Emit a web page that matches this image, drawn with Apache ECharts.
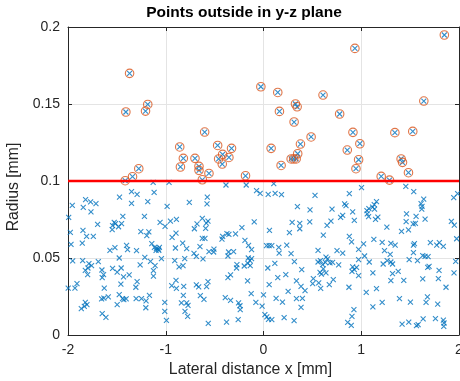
<!DOCTYPE html>
<html><head><meta charset="utf-8">
<script src="https://cdn.jsdelivr.net/npm/echarts@6/dist/echarts.min.js"></script>
<style>html,body{margin:0;padding:0;background:#fff}#c{width:460px;height:381px}</style>
</head><body><div id="c"></div>
<script>
// Points inside the radius threshold (lateral distance x [mm], radius [mm])
const xInside = [
-1.350,-1.293,-1.119,-1.473,-1.956,-1.820,-1.769,-1.714,-1.844,-1.350,-1.184,-0.986,-0.759,-1.765,-1.439,-1.218,-1.993,-1.697,-1.527,-1.544,
-1.514,-1.452,-1.483,-1.548,-1.058,-1.007,-0.952,-0.891,-1.976,-1.847,-1.810,-1.741,-1.854,-1.255,-1.173,-1.194,-0.895,-0.935,-0.827,-0.786,
-1.969,-1.401,-1.391,-1.299,-1.571,-1.520,-1.143,-1.116,-1.095,-1.075,-1.099,-1.071,-1.065,-0.901,-1.476,-1.952,-1.850,-1.690,-1.786,-1.759,
-1.796,-1.823,-1.799,-1.214,-1.156,-1.262,-1.109,-1.044,-0.908,-0.806,-0.864,-0.823,-1.653,-1.636,-1.650,-1.544,-1.456,-1.497,-1.432,-1.374,
-1.126,-1.126,-1.293,-1.459,-1.306,-0.939,-0.895,-0.816,-0.891,-1.998,-1.929,-1.908,-1.629,-1.476,-1.442,-1.405,-1.429,-1.303,-1.248,-1.167,
-1.201,-1.656,-1.633,-1.588,-0.820,-1.823,-1.806,-1.833,-1.864,-1.497,-1.010,-1.010,-0.993,-0.840,-0.786,-0.772,-0.803,-0.776,-1.204,-1.650,
-1.612,-1.129,-0.966,
-0.384,-0.177,0.105,-0.071,-0.034,0.048,0.119,0.184,-0.575,-0.578,0.347,-0.680,-0.707,-0.626,-0.568,-0.585,-0.592,-0.095,-0.221,0.293,
0.371,0.371,0.061,0.265,-0.374,-0.418,-0.425,-0.286,-0.354,-0.626,-0.599,-0.190,-0.153,-0.122,0.031,0.058,0.085,0.156,0.238,-0.650,
-0.711,-0.687,-0.619,-0.558,-0.507,-0.510,-0.357,-0.306,-0.364,0.160,0.282,-0.156,-0.122,-0.139,-0.160,-0.272,-0.276,-0.197,-0.136,0.116,
0.044,0.316,-0.337,-0.364,0.146,0.228,-0.163,0.337,0.058,-0.687,-0.663,-0.568,-0.582,-0.126,0.000,0.252,-0.646,-0.609,-0.391,-0.337,
-0.255,-0.241,-0.238,-0.078,-0.014,0.129,0.194,0.337,0.014,0.034,0.051,0.085,0.211,0.313,-0.565,-0.378,-0.259,
0.527,0.878,0.476,0.701,0.830,0.844,0.912,0.810,0.789,0.473,0.690,0.650,0.929,0.612,0.878,0.901,0.558,0.752,0.810,0.973,
0.558,0.582,0.639,0.656,0.605,0.633,0.680,0.707,0.769,0.612,0.578,0.639,0.592,0.912,0.929,0.905,0.952,0.510,0.503,0.565,
0.585,0.673,0.714,0.384,0.425,0.398,0.384,0.391,0.874,0.925,0.905,0.861,0.898,0.973,
1.003,1.456,1.537,1.639,1.612,1.622,1.619,1.946,1.986,1.058,1.078,1.116,1.136,1.156,1.133,1.061,1.075,1.170,1.146,1.463,
1.561,1.653,1.459,1.554,1.531,1.922,1.952,1.262,1.412,1.483,1.129,1.214,1.303,1.347,1.534,1.544,1.707,1.772,1.799,1.840,
1.976,0.973,1.024,1.238,1.296,1.534,1.629,1.653,1.684,1.034,
1.082,1.224,1.265,1.303,1.320,1.490,1.575,1.694,1.680,1.796,1.789,1.966,1.119,1.320,1.378,1.303,1.435,1.629,1.949,1.156,
1.051,1.867,1.391,1.503,1.677,1.663,1.782,1.214,1.119,1.418,1.486,1.565,1.582,1.633,1.759,1.840,1.847,1.844
];
const yInside = [
0.0931,0.0913,0.0926,0.0896,0.0842,0.0879,0.0864,0.0853,0.0829,0.0855,0.0866,0.0835,0.0861,0.0799,0.0771,0.0771,0.0764,0.0719,0.0732,0.0710,
0.0723,0.0723,0.0703,0.0684,0.0732,0.0706,0.0740,0.0751,0.0667,0.0680,0.0641,0.0641,0.0597,0.0671,0.0669,0.0645,0.0662,0.0634,0.0597,0.0561,
0.0589,0.0582,0.0554,0.0548,0.0550,0.0567,0.0593,0.0569,0.0563,0.0558,0.0550,0.0550,0.0569,0.0565,0.0500,0.0481,0.0483,0.0476,0.0463,0.0450,
0.0435,0.0420,0.0392,0.0504,0.0478,0.0455,0.0450,0.0496,0.0483,0.0496,0.0442,0.0450,0.0422,0.0392,0.0372,0.0433,0.0435,0.0409,0.0377,0.0390,
0.0418,0.0383,0.0346,0.0331,0.0310,0.0320,0.0355,0.0316,0.0303,0.0305,0.0305,0.0333,0.0305,0.0262,0.0236,0.0234,0.0229,0.0236,0.0236,0.0258,
0.0221,0.0234,0.0240,0.0247,0.0258,0.0212,0.0197,0.0186,0.0171,0.0197,0.0212,0.0154,0.0095,0.0208,0.0208,0.0193,0.0154,0.0121,0.0177,0.0139,
0.0115,0.0991,0.0991,
0.0974,0.0974,0.0983,0.0937,0.0920,0.0913,0.0920,0.0911,0.0896,0.0851,0.0833,0.0721,0.0690,0.0758,0.0740,0.0727,0.0693,0.0734,0.0697,0.0732,
0.0725,0.0690,0.0680,0.0665,0.0658,0.0641,0.0623,0.0656,0.0654,0.0628,0.0628,0.0615,0.0582,0.0554,0.0580,0.0580,0.0580,0.0569,0.0584,0.0574,
0.0530,0.0511,0.0494,0.0541,0.0558,0.0539,0.0539,0.0541,0.0513,0.0532,0.0528,0.0500,0.0496,0.0483,0.0465,0.0457,0.0435,0.0448,0.0450,0.0465,
0.0435,0.0476,0.0390,0.0372,0.0372,0.0392,0.0351,0.0351,0.0327,0.0325,0.0312,0.0346,0.0314,0.0268,0.0260,0.0284,0.0255,0.0232,0.0242,0.0225,
0.0208,0.0190,0.0165,0.0212,0.0188,0.0238,0.0214,0.0236,0.0132,0.0117,0.0102,0.0100,0.0113,0.0093,0.0076,0.0084,0.0100,
0.0907,0.0918,0.0812,0.0818,0.0851,0.0840,0.0799,0.0777,0.0764,0.0734,0.0740,0.0712,0.0745,0.0649,0.0641,0.0604,0.0550,0.0548,0.0532,0.0489,
0.0474,0.0483,0.0506,0.0494,0.0457,0.0472,0.0468,0.0472,0.0455,0.0429,0.0407,0.0403,0.0396,0.0442,0.0424,0.0413,0.0439,0.0366,0.0333,0.0338,
0.0303,0.0327,0.0359,0.0316,0.0288,0.0238,0.0180,0.0424,0.0310,0.0165,0.0121,0.0082,0.0063,0.0385,
0.0957,0.0965,0.0931,0.0883,0.0853,0.0835,0.0818,0.0892,0.0918,0.0807,0.0820,0.0831,0.0818,0.0866,0.0846,0.0786,0.0768,0.0766,0.0751,0.0786,
0.0771,0.0753,0.0736,0.0725,0.0721,0.0738,0.0714,0.0701,0.0673,0.0682,0.0621,0.0602,0.0595,0.0584,0.0584,0.0593,0.0600,0.0584,0.0600,0.0576,
0.0625,0.0556,0.0591,0.0548,0.0524,0.0535,0.0515,0.0511,0.0509,0.0513,
0.0474,0.0461,0.0483,0.0474,0.0461,0.0489,0.0483,0.0446,0.0439,0.0420,0.0366,0.0478,0.0403,0.0398,0.0413,0.0353,0.0355,0.0364,0.0403,0.0301,
0.0277,0.0310,0.0236,0.0214,0.0247,0.0212,0.0201,0.0212,0.0182,0.0071,0.0084,0.0061,0.0067,0.0104,0.0106,0.0097,0.0078,0.0056
];
// Points outside the radius threshold
const xOutside = [
-1.370,-1.184,-1.408,-1.207,-1.276,-1.340,-1.415,-0.857,-0.820,-0.850,
-0.701,-0.660,-0.660,-0.626,-0.558,-0.602,-0.469,-0.327,-0.418,-0.459,-0.354,-0.422,-0.184,-0.027,0.146,0.609,0.327,0.344,0.163,0.313,
0.487,0.078,0.378,0.350,0.283,0.309,0.334,0.180,
1.850,0.935,1.640,0.779,0.915,1.344,1.527,0.986,0.857,0.973,0.946,1.408,1.422,1.483,1.204,1.289
];
const yOutside = [
0.1699,0.1497,0.1448,0.1454,0.1080,0.1028,0.1002,0.1221,0.1147,0.1091,
0.1147,0.1095,0.1069,0.1008,0.1049,0.1318,0.1231,0.1212,0.1173,0.1143,0.1153,0.1110,0.1034,0.1612,0.1575,0.1558,0.1500,0.1482,0.1452,0.1383,
0.1286,0.1212,0.1240,0.1177,0.1143,0.1143,0.1143,0.1101,
0.1948,0.1861,0.1519,0.1435,0.1316,0.1314,0.1322,0.1242,0.1201,0.1138,0.1080,0.1143,0.1121,0.1054,0.1030,0.1006
];
const xTicks = [-2, -1, 0, 1, 2];
const yTicks = [0, 0.05, 0.1, 0.15, 0.2];
const threshold = 0.1;
const titleText = 'Points outside in y-z plane';
const xName = 'Lateral distance x [mm]';
const yName = 'Radius [mm]';

const allPts = xInside.map((x, i) => [x, yInside[i]]).concat(xOutside.map((x, i) => [x, yOutside[i]]));
const outPts = xOutside.map((x, i) => [x, yOutside[i]]);
const FONT = '"Liberation Sans", Arial, Helvetica, sans-serif';
const axisCol = '#262626';
const xMin = xTicks[0], xMax = xTicks[xTicks.length - 1];
const yMin = yTicks[0], yMax = yTicks[yTicks.length - 1];

function mkX(pos, main) {
  return {
    type: 'value', min: xMin, max: xMax, interval: xTicks[1] - xTicks[0], position: pos,
    name: main ? xName : '', nameLocation: 'middle', nameGap: 26,
    nameTextStyle: { fontFamily: FONT, fontSize: 15.8, color: axisCol, padding: [0, 26, 0, 0] },
    axisLine: { show: true, onZero: false, lineStyle: { color: axisCol, width: 1 } },
    axisTick: { show: true, inside: true, length: 4, lineStyle: { color: axisCol } },
    axisLabel: { show: main, margin: 8, fontFamily: FONT, fontSize: 14, color: axisCol },
    splitLine: { show: main, lineStyle: { color: '#e4e4e4', width: 1 } }
  };
}
function mkY(pos, main) {
  return {
    type: 'value', min: yMin, max: yMax, interval: yTicks[1] - yTicks[0], position: pos,
    name: main ? yName : '', nameLocation: 'middle', nameGap: 42,
    nameTextStyle: { fontFamily: FONT, fontSize: 15.8, color: axisCol, padding: [0, 12, 0, 0] },
    axisLine: { show: true, onZero: false, lineStyle: { color: axisCol, width: 1 } },
    axisTick: { show: true, inside: true, length: 4, lineStyle: { color: axisCol } },
    axisLabel: { show: main, margin: 8, fontFamily: FONT, fontSize: 14, color: axisCol,
      formatter: v => String(parseFloat(v.toFixed(2))) },
    splitLine: { show: main, lineStyle: { color: '#e4e4e4', width: 1 } }
  };
}

const chart = echarts.init(document.getElementById('c'), null, { renderer: 'canvas' });
chart.setOption({
  animation: false,
  backgroundColor: '#fff',
  title: { text: titleText, left: 244, top: 5, textAlign: 'center', padding: 0,
    textStyle: { fontFamily: FONT, fontSize: 15.5, fontWeight: 'bold', color: '#000' } },
  grid: { left: 68, right: 1, top: 27, bottom: 46, containLabel: false, outerBoundsMode: 'none' },
  xAxis: [mkX('bottom', true), mkX('top', false)],
  yAxis: [mkY('left', true), mkY('right', false)],
  series: [
    { type: 'scatter', data: allPts, xAxisIndex: 0, yAxisIndex: 0,
      symbol: 'path://M0 0L10 10M10 0L0 10', symbolSize: 5,
      itemStyle: { color: 'rgba(0,0,0,0)', borderColor: '#0072BD', borderWidth: 1.1 }, z: 2 },
    { type: 'scatter', data: outPts, xAxisIndex: 0, yAxisIndex: 0,
      symbol: 'circle', symbolSize: 8.5,
      itemStyle: { color: 'rgba(0,0,0,0)', borderColor: '#D95319', borderWidth: 1.1 }, z: 3 },
    { type: 'line', data: [[xMin, threshold], [xMax, threshold]], xAxisIndex: 0, yAxisIndex: 0,
      symbol: 'none', lineStyle: { color: '#FF0000', width: 2.5 }, z: 4, silent: true }
  ]
});
</script>
</body></html>
